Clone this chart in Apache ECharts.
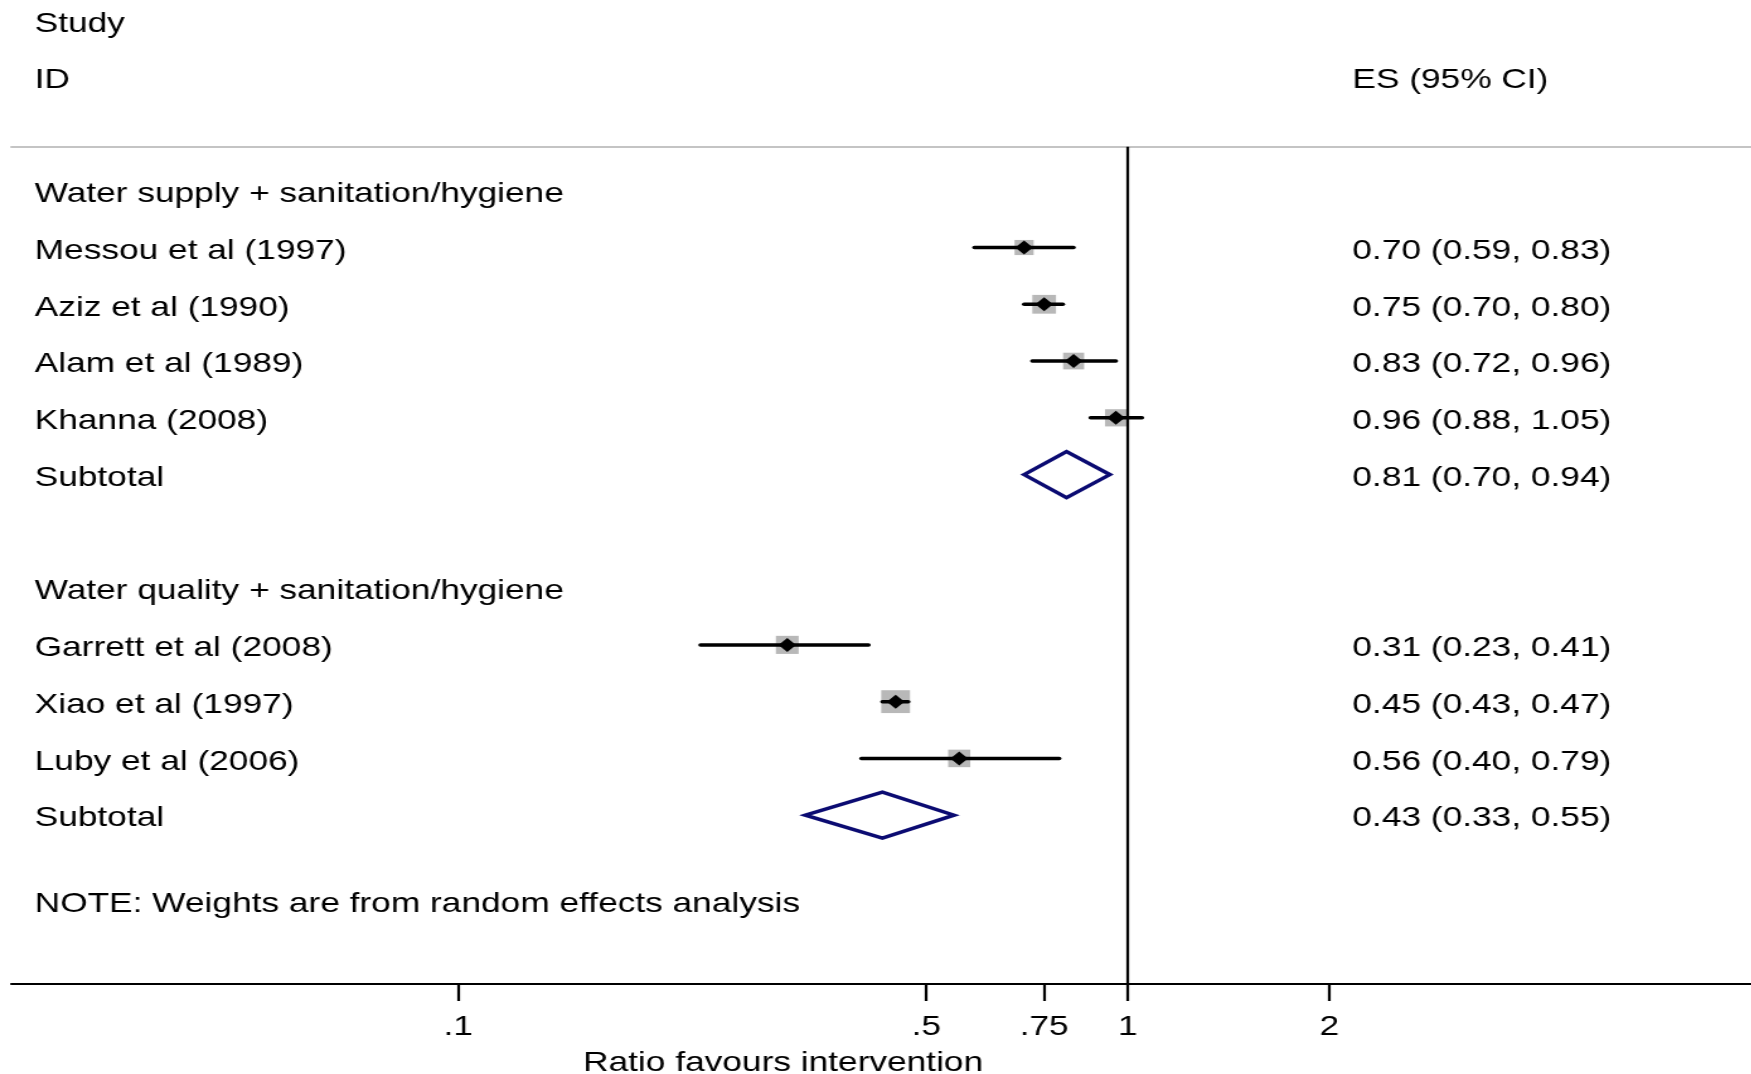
<!DOCTYPE html>
<html>
<head>
<meta charset="utf-8">
<title>Forest plot</title>
<script src="https://cdn.jsdelivr.net/npm/echarts@6/dist/echarts.min.js"></script>
<style>
  html, body { margin: 0; padding: 0; background: #fff; overflow: hidden; }
  /* the Stata export is stretched horizontally; reproduce that with a scaleX on the chart box */
  #chart { width: 1390px; height: 1074px; transform: scaleX(1.26); transform-origin: 0 0; }
</style>
</head>
<body>
<div id="chart"></div>
<script>
// ---- data ----
const groupNames = ['Water supply + sanitation/hygiene', 'Water quality + sanitation/hygiene'];
const studies = ['Messou et al (1997)', 'Aziz et al (1990)', 'Alam et al (1989)', 'Khanna (2008)',
                 'Garrett et al (2008)', 'Xiao et al (1997)', 'Luby et al (2006)'];
const studyGroup = [0, 0, 0, 0, 1, 1, 1];
const es = [0.70, 0.75, 0.83, 0.96, 0.31, 0.45, 0.56];
const ciLow = [0.59, 0.70, 0.72, 0.88, 0.23, 0.43, 0.40];
const ciHigh = [0.83, 0.80, 0.96, 1.05, 0.41, 0.47, 0.79];
const weights = [19.8, 30.5, 24.1, 25.6, 28.3, 45.2, 26.6];   // % weight (random effects)
const subtotalES = [0.81, 0.43];
const subtotalLow = [0.70, 0.33];
const subtotalHigh = [0.94, 0.55];
const tickValues = [0.1, 0.5, 0.75, 1, 2];
const tickLabels = ['.1', '.5', '.75', '1', '2'];
const noteText = 'NOTE: Weights are from random effects analysis';
const axisTitle = 'Ratio favours intervention';

// ---- row layout (one row per line of the table) ----
const FONT = '"Liberation Sans", Arial, Helvetica, sans-serif';
const fmt = v => v.toFixed(2);
const leftTexts = [];   // [row, text]
const rightTexts = [];  // [row, text]
const studyRows = [];
const subtotalRows = [];
leftTexts.push([-3, 'Study']);
leftTexts.push([-2, 'ID']);
rightTexts.push([-2, 'ES (95% CI)']);
let row = 0;
groupNames.forEach((g, gi) => {
  leftTexts.push([row, g]);
  row += 1;
  studies.forEach((s, i) => {
    if (studyGroup[i] !== gi) return;
    studyRows[i] = row;
    leftTexts.push([row, s]);
    rightTexts.push([row, fmt(es[i]) + ' (' + fmt(ciLow[i]) + ', ' + fmt(ciHigh[i]) + ')']);
    row += 1;
  });
  subtotalRows[gi] = row;
  leftTexts.push([row, 'Subtotal']);
  rightTexts.push([row, fmt(subtotalES[gi]) + ' (' + fmt(subtotalLow[gi]) + ', ' + fmt(subtotalHigh[gi]) + ')']);
  row += 2;
});
const noteRow = subtotalRows[1] + 1.5;
leftTexts.push([noteRow, noteText]);

const boxSide = w => 3.4 * Math.sqrt(w);

const chart = echarts.init(document.getElementById('chart'));

function textSeries(items, xPx) {
  return {
    type: 'custom',
    z: 10,
    silent: true,
    clip: false,
    data: items.map(d => ({ value: [1, d[0]], text: d[1] })),
    renderItem: function (params, api) {
      const y = api.coord([1, api.value(1)])[1] + 3.5;
      return {
        type: 'text',
        x: xPx,
        y: y,
        style: {
          text: items[params.dataIndex][1],
          fill: '#000',
          font: '28px ' + FONT,
          align: 'left',
          verticalAlign: 'middle'
        }
      };
    }
  };
}

const xRange = { min: 0.0215, max: 8.54 };

chart.setOption({
  animation: false,
  backgroundColor: '#fff',
  grid: { left: 9, right: 0, top: 146.7, bottom: 90, containLabel: false, outerBoundsMode: 'none' },
  xAxis: [
    {
      type: 'log', logBase: 10, min: xRange.min, max: xRange.max,
      position: 'bottom',
      axisLine: { show: true, onZero: false, lineStyle: { color: '#000', width: 2.2 } },
      axisTick: { show: true, length: 17, lineStyle: { color: '#000', width: 2.2 }, customValues: tickValues },
      axisLabel: {
        show: true, margin: 29, color: '#000', fontSize: 28, fontFamily: FONT,
        customValues: tickValues,
        formatter: v => { const i = tickValues.findIndex(t => Math.abs(t - v) < 1e-6); return i >= 0 ? tickLabels[i] : ''; }
      },
      splitLine: { show: false },
      minorTick: { show: false },
      name: axisTitle, nameLocation: 'middle', nameGap: 65,
      nameTextStyle: { color: '#000', fontSize: 28, fontFamily: FONT, padding: [0, 156, 0, 0] }
    },
    {
      type: 'log', logBase: 10, min: xRange.min, max: xRange.max,
      position: 'top',
      axisLine: { show: true, onZero: false, lineStyle: { color: '#c4c4c4', width: 2 } },
      axisTick: { show: false }, axisLabel: { show: false }, splitLine: { show: false }
    }
  ],
  yAxis: { type: 'value', inverse: true, min: -0.776, max: 13.974, show: false },
  series: [
    // weight boxes
    {
      type: 'scatter', z: 2, silent: true,
      symbol: 'rect',
      data: studies.map((s, i) => ({ value: [es[i], studyRows[i]], symbolSize: boxSide(weights[i]) })),
      itemStyle: { color: '#b8b8b8', opacity: 1 }
    },
    // confidence intervals
    {
      type: 'custom', z: 3, silent: true,
      data: studies.map((s, i) => [ciLow[i], ciHigh[i], studyRows[i]]),
      renderItem: function (params, api) {
        const p1 = api.coord([api.value(0), api.value(2)]);
        const p2 = api.coord([api.value(1), api.value(2)]);
        return {
          type: 'line',
          shape: { x1: p1[0], y1: p1[1], x2: p2[0], y2: p2[1] },
          style: { stroke: '#000', lineWidth: 3.5, lineCap: 'round' }
        };
      },
      markLine: {
        silent: true, symbol: 'none', animation: false,
        label: { show: false },
        lineStyle: { color: '#000', width: 2.2, type: 'solid' },
        data: [{ xAxis: 1 }]
      }
    },
    // point estimates
    {
      type: 'scatter', z: 4, silent: true,
      symbol: 'diamond', symbolSize: 14,
      data: studies.map((s, i) => [es[i], studyRows[i]]),
      itemStyle: { color: '#000', opacity: 1 }
    },
    // subgroup pooled estimates
    {
      type: 'custom', z: 4, silent: true,
      data: subtotalES.map((v, gi) => [subtotalLow[gi], v, subtotalHigh[gi], subtotalRows[gi]]),
      renderItem: function (params, api) {
        const r = api.value(3);
        const l = api.coord([api.value(0), r]);
        const c = api.coord([api.value(1), r]);
        const h = api.coord([api.value(2), r]);
        const half = 23;
        return {
          type: 'polygon',
          shape: { points: [[l[0], l[1]], [c[0], c[1] - half], [h[0], h[1]], [c[0], c[1] + half]] },
          style: { fill: '#fff', stroke: '#0b0b72', lineWidth: 3.5, lineJoin: 'miter' }
        };
      }
    },
    textSeries(leftTexts, 27.5),
    textSeries(rightTexts, 1073.3)
  ]
});
</script>
</body>
</html>
